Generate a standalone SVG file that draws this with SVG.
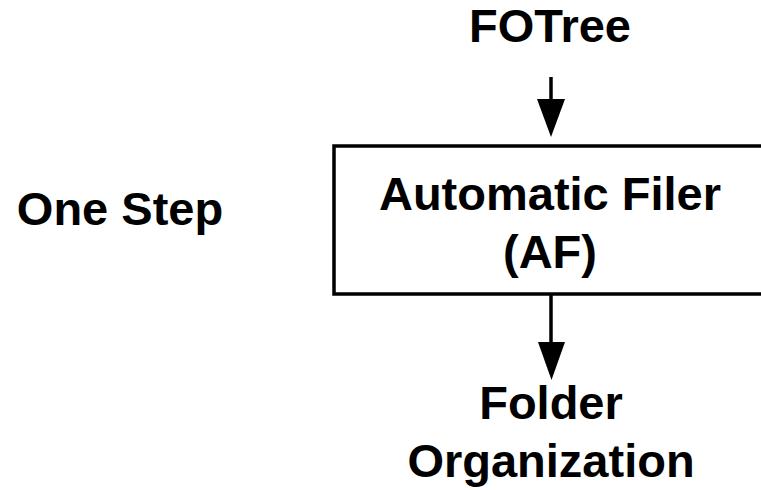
<svg xmlns="http://www.w3.org/2000/svg" width="761" height="490" viewBox="0 0 761 490">
<defs>
<style>
text{font-family:"Liberation Sans",Arial,sans-serif;font-weight:bold;font-size:47px;fill:#000;text-anchor:middle}
.box{fill:#fff;stroke:#000;stroke-width:3.5}
.conn{stroke:#000;stroke-width:3.5;fill:none}
.head{fill:#000}
</style>
</defs>
<rect width="761" height="490" fill="#fff"/>
<g id="connectors">
<line class="conn" x1="551" y1="77" x2="551" y2="101"/>
<path class="head" d="M537,99 L565,99 L551,137 Z"/>
<line class="conn" x1="551" y1="294" x2="551" y2="344"/>
<path class="head" d="M538,342 L565,342 L551.5,380 Z"/>
</g>
<g id="fotree"><text x="550" y="42" font-size="48">FOTree</text></g>
<g id="label-one-step"><text x="120" y="225" font-size="48">One Step</text></g>
<g id="af">
<rect class="box" x="334" y="146" width="440" height="148"/>
<text x="550" y="210" font-size="48.5">Automatic Filer</text>
<text x="550" y="268">(AF)</text>
</g>
<g id="folder-org">
<text x="551" y="419" font-size="46">Folder</text>
<text x="551" y="477" font-size="46">Organization</text>
</g>
</svg>
